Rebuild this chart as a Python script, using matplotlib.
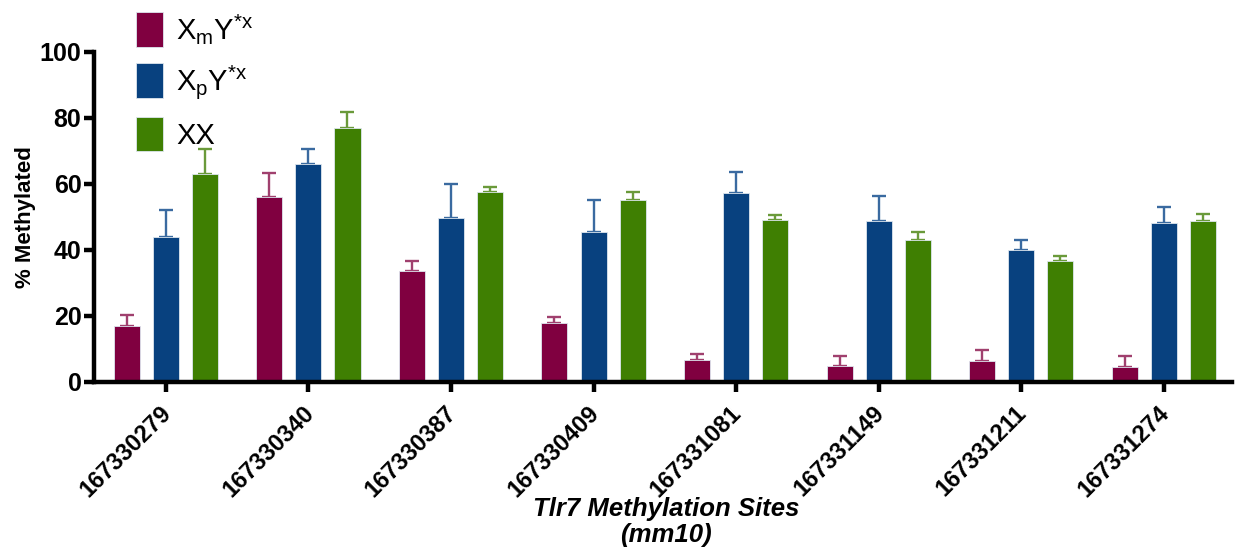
import matplotlib
matplotlib.use("Agg")
import matplotlib.pyplot as plt
import numpy as np

plt.rcParams['font.family'] = ['Liberation Sans', 'DejaVu Sans']
plt.rcParams['mathtext.fontset'] = 'custom'
plt.rcParams['mathtext.rm'] = 'Liberation Sans'

sites = ['167330279', '167330340', '167330387', '167330409',
         '167331081', '167331149', '167331211', '167331274']
groups = [r'X$_\mathregular{m}$Y$^\mathregular{*x}$',
          r'X$_\mathregular{p}$Y$^\mathregular{*x}$',
          'XX']
xm_mean = [17.0, 56.1, 33.5, 17.7, 6.5, 4.7, 6.3, 4.5]
xm_sem = [3.3, 7.2, 3.2, 1.9, 2.0, 3.2, 3.2, 3.4]
xp_mean = [43.8, 66.1, 49.7, 45.4, 57.3, 48.8, 40.0, 48.1]
xp_sem = [8.3, 4.5, 10.1, 9.8, 6.2, 7.4, 3.0, 4.7]
xx_mean = [63.0, 76.8, 57.5, 55.1, 49.0, 42.8, 36.6, 48.8]
xx_sem = [7.4, 5.0, 1.5, 2.3, 1.6, 2.6, 1.6, 1.9]

colors = ['#800040', '#08417f', '#3f7f02']
err_colors = ['#a0406e', '#3a6aa0', '#6a9a3a']
means = [xm_mean, xp_mean, xx_mean]
sems = [xm_sem, xp_sem, xx_sem]

fig = plt.figure(figsize=(12.36, 5.56), dpi=100)
ax = fig.add_axes([0.076, 0.3135, 0.9208, 0.5935])

x = np.arange(len(sites))
step = 0.274
width = 0.1825
handles = []
for k in range(3):
    pos = x + (k - 1) * step
    b = ax.bar(pos, means[k], width, color=colors[k], edgecolor='#dde6ee',
               linewidth=0.6, label=groups[k], zorder=2)
    # only the upper half of the SEM bar is drawn
    ax.errorbar(pos, means[k], yerr=[np.zeros(len(sites)), sems[k]], fmt='none',
                ecolor=err_colors[k], elinewidth=1.7, capsize=4.8, capthick=1.7,
                zorder=1)
    handles.append(b)

ax.set_xlim(-0.505, 7.48)
ax.set_ylim(0, 100)
ax.set_yticks([0, 20, 40, 60, 80, 100])
ax.set_xticks(x)
ax.set_xticklabels(sites, rotation=45, ha='right', va='center_baseline',
                   rotation_mode='anchor', fontsize=17, fontweight='bold')
for lab in ax.get_yticklabels():
    lab.set_fontsize(18)
    lab.set_fontweight('bold')

for side in ['top', 'right']:
    ax.spines[side].set_visible(False)
for side in ['left', 'bottom']:
    ax.spines[side].set_linewidth(3.2)
ax.tick_params(axis='both', width=3.2, length=7, pad=2)
ax.tick_params(axis='x', pad=12)

ax.set_ylabel('% Methylated', fontsize=16, fontweight='bold', labelpad=3)
fig.text(0.539, 1 - 497 / 556, 'Tlr7 Methylation Sites\n(mm10)', ha='center', va='top',
         fontsize=18.5, fontweight='bold', style='italic', linespacing=1.1)

fig.legend(handles=handles, loc='upper left', bbox_to_anchor=(136 / 1236, 1 - 12 / 556),
           frameon=False, fontsize=21, handlelength=0.93, handleheight=1.45,
           handletextpad=0.45, labelspacing=0.55, borderpad=0, borderaxespad=0)

fig.savefig('out.png', dpi=100)
